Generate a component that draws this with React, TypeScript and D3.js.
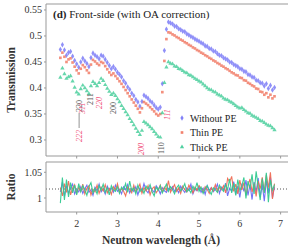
import React from "react";
import * as d3 from "d3";

// transmission, sampled every 0.05 Å from 1.60 Å
const withoutPE = [
  0.474, 0.483, 0.473, 0.463, 0.468, 0.47, 0.461, 0.453, 0.446, 0.44,
  0.45, 0.457, 0.452, 0.447, 0.441, 0.458, 0.467, 0.463, 0.46, 0.456,
  0.463, 0.461, 0.455, 0.449, 0.443, 0.437, 0.441, 0.436, 0.43, 0.426,
  0.421, 0.414, 0.409, 0.402, 0.397, 0.39, 0.385, 0.378, 0.373, 0.365,
  0.374, 0.386, 0.383, 0.38, 0.375, 0.372, 0.367, 0.362, 0.359, 0.363,
  0.408, 0.472, 0.513, 0.527, 0.525, 0.523, 0.519, 0.518, 0.514, 0.512,
  0.509, 0.508, 0.504, 0.502, 0.499, 0.497, 0.494, 0.492, 0.49, 0.487,
  0.485, 0.481, 0.48, 0.476, 0.475, 0.471, 0.47, 0.466, 0.463, 0.462,
  0.458, 0.456, 0.454, 0.45, 0.449, 0.445, 0.443, 0.441, 0.437, 0.436,
  0.432, 0.431, 0.426, 0.425, 0.421, 0.42, 0.415, 0.414, 0.41, 0.409,
  0.404, 0.408, 0.399, 0.405, 0.396, 0.401,
];
const thinPE = [
  0.458, 0.468, 0.46, 0.45, 0.455, 0.457, 0.449, 0.441, 0.434, 0.428,
  0.437, 0.444, 0.44, 0.434, 0.429, 0.445, 0.454, 0.451, 0.447, 0.444,
  0.45, 0.448, 0.442, 0.436, 0.43, 0.425, 0.428, 0.423, 0.418, 0.413,
  0.408, 0.402, 0.396, 0.39, 0.384, 0.378, 0.372, 0.366, 0.36, 0.353,
  0.361, 0.373, 0.37, 0.367, 0.363, 0.359, 0.355, 0.35, 0.347, 0.35,
  0.392, 0.452, 0.494, 0.507, 0.506, 0.503, 0.501, 0.498, 0.496, 0.493,
  0.491, 0.488, 0.486, 0.483, 0.481, 0.478, 0.476, 0.473, 0.471, 0.468,
  0.466, 0.463, 0.461, 0.458, 0.456, 0.453, 0.451, 0.448, 0.446, 0.443,
  0.441, 0.438, 0.436, 0.433, 0.43, 0.428, 0.425, 0.424, 0.42, 0.419,
  0.415, 0.414, 0.41, 0.408, 0.405, 0.403, 0.399, 0.398, 0.393, 0.392,
  0.387, 0.39, 0.382, 0.387, 0.38, 0.384,
];
const thickPE = [
  0.42, 0.438, 0.427, 0.418, 0.421, 0.423, 0.413, 0.401, 0.392, 0.388,
  0.398, 0.405, 0.4, 0.394, 0.389, 0.404, 0.412, 0.408, 0.404, 0.41,
  0.418, 0.414, 0.406, 0.399, 0.393, 0.387, 0.39, 0.385, 0.379, 0.373,
  0.366, 0.36, 0.354, 0.348, 0.341, 0.335, 0.329, 0.322, 0.316, 0.31,
  0.318, 0.335, 0.332, 0.329, 0.325, 0.321, 0.316, 0.311, 0.306, 0.305,
  0.352, 0.41, 0.44, 0.45, 0.447, 0.446, 0.442, 0.441, 0.437, 0.436,
  0.433, 0.43, 0.429, 0.425, 0.424, 0.421, 0.418, 0.416, 0.413, 0.411,
  0.407, 0.404, 0.4, 0.397, 0.396, 0.393, 0.392, 0.388, 0.386, 0.384,
  0.38, 0.378, 0.377, 0.374, 0.372, 0.369, 0.366, 0.363, 0.361, 0.362,
  0.358, 0.355, 0.352, 0.351, 0.347, 0.345, 0.343, 0.341, 0.337, 0.336,
  0.333, 0.33, 0.328, 0.327, 0.323, 0.319,
];

// ratio panel, same wavelength grid
const ratioWithout = [
  1.012, 1.031, 1.003, 1.024, 1.009, 1.02, 1.027, 1.008, 1.017, 1.012,
  1.022, 1.009, 1.018, 1.025, 1.011, 1.016, 1.005, 1.021, 1.014, 1.027,
  1.012, 1.018, 1.008, 1.023, 1.015, 1.019, 1.011, 1.025, 1.013, 1.017,
  1.008, 1.022, 1.016, 1.026, 1.01, 1.018, 1.013, 1.022, 1.006, 1.019,
  1.013, 1.028, 1.015, 1.01, 1.021, 1.016, 1.011, 1.024, 1.018, 1.008,
  1.02, 1.014, 1.011, 1.019, 1.016, 1.022, 1.013, 1.018, 1.01, 1.023,
  1.016, 1.011, 1.02, 1.015, 1.027, 1.008, 1.018, 1.014, 1.022, 1.011,
  1.019, 1.007, 1.024, 1.015, 1.02, 1.012, 1.017, 1.027, 1.009, 1.021,
  1.015, 1.029, 1.004, 1.019, 1.013, 1.032, 1.007, 1.023, 1.001, 1.028,
  1.013, 1.035, 1.005, 1.026, 0.997, 1.031, 1.011, 1.039, 1.002, 1.027,
  0.994, 1.034, 1.009, 1.041, 1.0, 1.022,
];
const ratioThin = [
  1.02, 1.004, 1.028, 1.011, 1.033, 1.006, 1.019, 1.026, 1.009, 1.021,
  1.013, 1.027, 1.008, 1.019, 1.024, 1.006, 1.017, 1.012, 1.025, 1.009,
  1.021, 1.014, 1.026, 1.01, 1.018, 1.007, 1.022, 1.015, 1.028, 1.011,
  1.019, 1.013, 1.004, 1.021, 1.017, 1.01, 1.025, 1.012, 1.018, 1.027,
  1.009, 1.02, 1.014, 1.024, 1.006, 1.018, 1.022, 1.01, 1.016, 1.025,
  1.012, 1.021, 1.015, 1.034, 1.011, 1.019, 1.026, 1.013, 1.02, 1.009,
  1.023, 1.016, 1.012, 1.025, 1.018, 1.01, 1.021, 1.015, 1.024, 1.019,
  1.011, 1.022, 1.017, 1.009, 1.02, 1.014, 1.026, 1.012, 1.021, 1.016,
  1.024, 1.01, 1.038, 1.031, 1.042, 1.013, 1.027, 1.008, 1.035, 1.016,
  1.03, 1.005, 1.024, 1.037, 1.012, 1.028, 1.003, 1.033, 1.018, 1.04,
  1.011, 1.045, 1.02, 1.05, 0.998, 1.028,
];
const ratioThick = [
  0.99, 1.04, 0.996, 1.036, 1.002, 1.03, 1.01, 1.025, 1.006, 1.028,
  1.012, 1.024, 1.016, 1.005, 1.022, 1.03, 1.01, 1.019, 1.008, 1.024,
  1.015, 1.027, 1.011, 1.02, 1.006, 1.024, 1.016, 1.013, 1.022, 1.009,
  1.021, 1.016, 1.028, 1.011, 1.033, 1.014, 1.02, 1.008, 1.025, 1.012,
  1.018, 1.009, 1.023, 1.017, 1.026, 1.012, 1.004, 1.021, 1.015, 1.024,
  1.01, 1.018, 1.027, 1.013, 1.022, 1.016, 1.008, 1.02, 1.025, 1.014,
  1.019, 1.028, 1.012, 1.017, 1.01, 1.023, 1.016, 1.03, 1.013, 1.021,
  1.009, 1.018, 1.024, 1.014, 1.007, 1.02, 1.016, 1.011, 1.025, 1.018,
  1.013, 1.026, 1.016, 1.037, 1.01, 1.029, 1.005, 1.036, 1.014, 1.024,
  1.04, 0.999, 1.033, 1.019, 1.046, 1.008, 1.052, 1.022, 0.996, 1.038,
  1.01, 1.049, 0.992, 1.035, 1.015, 1.026,
];

const wavelengths = withoutPE.map((_, i) => 1.6 + i * 0.05);

const transTicks = [0.3, 0.35, 0.4, 0.45, 0.5, 0.55];
const ratioTicks = [1, 1.05];
const xTicks = [2, 3, 4, 5, 6, 7];
const ratioLevel = 1.0175;

const seriesNames = ["Without PE", "Thin PE", "Thick PE"];
const colors = ["#6b6bf6", "#f06b54", "#33c990"];

// Bragg edge labels: ferrite (grey) / austenite (pink)
const edgeLabels = [
  { text: "220", lam: 2.06, bottom: 112, fe: true },
  { text: "311", lam: 2.15, bottom: 114, fe: false },
  { text: "211", lam: 2.34, bottom: 105, fe: true },
  { text: "220", lam: 2.57, bottom: 109, fe: false },
  { text: "200", lam: 2.9, bottom: 114, fe: true },
  { text: "222", lam: 2.06, bottom: 142, fe: false },
  { text: "200", lam: 3.6, bottom: 155, fe: false },
  { text: "111", lam: 4.22, bottom: 120, fe: false },
  { text: "110", lam: 4.08, bottom: 154, fe: true },
];

const font = '"Liberation Serif", "Times New Roman", "DejaVu Serif", serif';

export default function App() {
  const W = 288, H = 247;
  const left = 46, right = 290;
  const topT = 4, botT = 156;
  const topR = 162, botR = 212;

  const x = d3.scaleLinear().domain([1.248, 7.23]).range([left, right]);
  const yT = d3.scaleLinear().domain([0.2692, 0.5615]).range([botT, topT]);
  const yR = d3.scaleLinear().domain([0.9728, 1.07]).range([botR, topR]);

  const symbols = [
    d3.symbol().type(d3.symbolDiamond).size(9)(),
    d3.symbol().type(d3.symbolSquare).size(7)(),
    d3.symbol().type(d3.symbolTriangle).size(8)(),
  ];
  const trans = [withoutPE, thinPE, thickPE];
  const ratios = [ratioWithout, ratioThin, ratioThick];

  const line = d3
    .line<number>()
    .x((_, i) => x(wavelengths[i]))
    .y((d) => yR(d));

  return (
    <svg width={W} height={H} style={{ position: "absolute", left: 0, top: 0, fontFamily: font }}>
      <rect width={W} height={H} fill="white" />
      <defs>
        <clipPath id="clipT">
          <rect x={left} y={topT} width={right - left} height={botT - topT} />
        </clipPath>
        <clipPath id="clipR">
          <rect x={left} y={topR} width={right - left} height={botR - topR} />
        </clipPath>
      </defs>

      {/* top panel points */}
      <g clipPath="url(#clipT)">
        {trans.map((s, k) => (
          <g key={k} fill={colors[k]} opacity={0.75}>
            {s.map((v, i) => (
              <path key={i} d={symbols[k]!} transform={`translate(${x(wavelengths[i])},${yT(v)})`} />
            ))}
          </g>
        ))}
      </g>

      {/* ratio lines */}
      <g clipPath="url(#clipR)">
        <line x1={left} x2={right} y1={yR(ratioLevel)} y2={yR(ratioLevel)} stroke="#555" strokeDasharray="1,2" />
        {ratios.map((s, k) => (
          <path key={k} d={line(s)!} fill="none" stroke={colors[k]} strokeWidth={1.1} opacity={0.95} />
        ))}
      </g>

      {/* frames */}
      <path d={`M${right},${topT}H${left}V${botT}H${right}`} fill="none" stroke="#999" />
      <path d={`M${right},${topR}H${left}V${botR}H${right}`} fill="none" stroke="#999" />

      {/* y ticks */}
      {transTicks.map((t) => (
        <g key={t} transform={`translate(${left},${yT(t)})`}>
          <line x1={-2} x2={0} stroke="#999" />
          <text x={-4} dy="0.35em" textAnchor="end" fontSize={10} fill="#333">
            {t}
          </text>
        </g>
      ))}
      {ratioTicks.map((t) => (
        <g key={t} transform={`translate(${left},${yR(t)})`}>
          <line x1={-2} x2={0} stroke="#999" />
          <text x={-4} dy="0.35em" textAnchor="end" fontSize={10} fill="#333">
            {t}
          </text>
        </g>
      ))}

      {/* x ticks */}
      {xTicks.map((t) => (
        <g key={t} transform={`translate(${x(t)},0)`}>
          <line y1={botT} y2={botT + 2.5} stroke="#999" />
          <line y1={botR} y2={botR + 2.5} stroke="#999" />
          <text y={227} textAnchor="middle" fontSize={10} fill="#333">
            {t}
          </text>
        </g>
      ))}

      {/* edge labels */}
      <line x1={x(2.06)} x2={x(2.06)} y1={113} y2={128} stroke="#777" strokeWidth={0.8} />
      {edgeLabels.map((l, i) => (
        <text
          key={i}
          transform={`translate(${x(l.lam)},${l.bottom}) rotate(-90)`}
          dominantBaseline="central"
          fontSize={8}
          fill={l.fe ? "#555" : "#f0507a"}
          fontStyle={l.fe ? "normal" : "italic"}
        >
          {l.text}
        </text>
      ))}

      {/* title */}
      <text x={53} y={18} fontSize={11} fill="#222">
        <tspan fontWeight="bold">(d)</tspan> Front-side (with OA correction)
      </text>

      {/* legend */}
      {seriesNames.map((n, k) => (
        <g key={n} transform={`translate(182,${118 + k * 14.5})`}>
          <path d={symbols[k]!} fill={colors[k]} opacity={0.85} />
          <text x={8} dy="0.35em" fontSize={10} fill="#222">
            {n}
          </text>
        </g>
      ))}

      {/* axis titles */}
      <text transform={`translate(15,${(topT + botT) / 2}) rotate(-90)`} textAnchor="middle" fontSize={11.5} fontWeight="bold" fill="#333">
        Transmission
      </text>
      <text transform={`translate(15,${(topR + botR) / 2}) rotate(-90)`} textAnchor="middle" fontSize={11.5} fontWeight="bold" fill="#333">
        Ratio
      </text>
      <text x={161} y={244} textAnchor="middle" fontSize={11.5} fontWeight="bold" fill="#333">
        Neutron wavelength (Å)
      </text>
    </svg>
  );
}
